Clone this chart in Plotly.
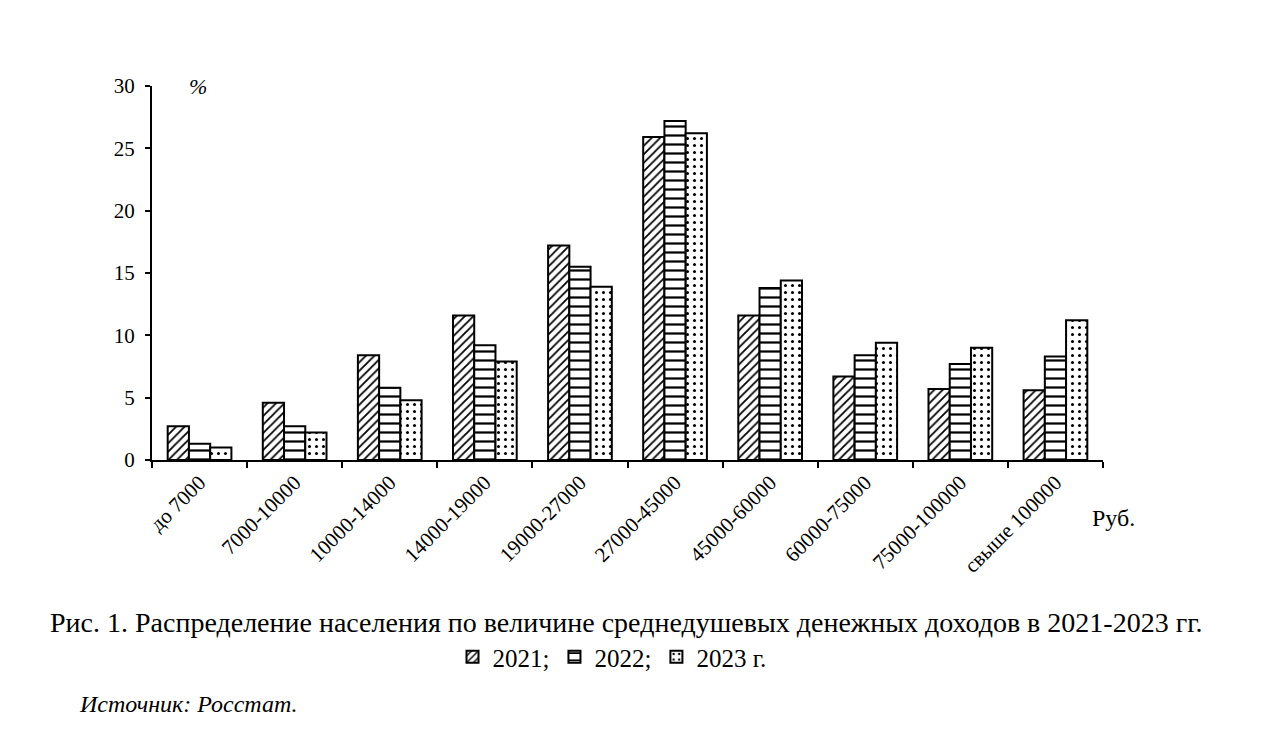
import plotly.graph_objects as go

categories = ["до 7000", "7000-10000", "10000-14000", "14000-19000", "19000-27000",
              "27000-45000", "45000-60000", "60000-75000", "75000-100000", "свыше 100000"]
v2021 = [2.7, 4.6, 8.4, 11.6, 17.2, 25.9, 11.6, 6.7, 5.7, 5.6]
v2022 = [1.3, 2.7, 5.8, 9.2, 15.5, 27.2, 13.8, 8.4, 7.7, 8.3]
v2023 = [1.0, 2.2, 4.8, 7.9, 13.9, 26.2, 14.4, 9.4, 9.0, 11.2]
series_names = ["2021;", "2022;", "2023 г."]

FONT = "Liberation Serif"

patterns = [
    dict(shape="/", size=6, solidity=0.3, fgcolor="black", bgcolor="white", fillmode="replace"),
    dict(shape="-", size=9, solidity=0.25, fgcolor="black", bgcolor="white", fillmode="replace"),
    dict(shape=".", size=7, solidity=0.15, fgcolor="black", bgcolor="white", fillmode="replace"),
]

fig = go.Figure()
for name, vals, pat in zip(series_names, [v2021, v2022, v2023], patterns):
    fig.add_trace(go.Bar(
        x=categories, y=vals, name=name,
        marker=dict(color="white", pattern=pat, line=dict(color="black", width=2)),
    ))

L, R, T, B = 152, 1103, 86, 460
PW, PH = R - L, B - T

def px(x):
    return (x - L) / PW

def py(y):
    return (B - y) / PH

fig.update_layout(
    width=1270, height=736,
    paper_bgcolor="white", plot_bgcolor="white",
    margin=dict(l=L, r=1270 - R, t=T, b=736 - B),
    barmode="group", bargap=0.33, bargroupgap=0,
    font=dict(family=FONT, color="black", size=21),
    showlegend=True,
    legend=dict(orientation="h", x=px(612), xanchor="center", y=py(657), yanchor="middle",
                font=dict(family=FONT, size=25), itemwidth=30, tracegroupgap=0),
    xaxis=dict(
        showline=True, linecolor="black", linewidth=2,
        ticks="outside", ticklen=6, tickwidth=2, tickcolor="black",
        tickson="boundaries", tickangle=-45, automargin=False,
        tickfont=dict(family=FONT, size=21), showgrid=False,
    ),
    yaxis=dict(
        range=[0, 30], dtick=5, showline=True, linecolor="black", linewidth=2,
        ticks="outside", ticklen=5, tickwidth=2, tickcolor="black", automargin=False,
        ticklabelstandoff=6,
        tickfont=dict(family=FONT, size=21), showgrid=False, zeroline=False,
    ),
    annotations=[
        dict(text="<i>%</i>", x=px(198), y=py(86), xref="paper", yref="paper", showarrow=False,
             font=dict(family=FONT, size=22), xanchor="center", yanchor="middle"),
        dict(text="Руб.", x=px(1090), y=py(518), xref="paper", yref="paper",
             showarrow=False, font=dict(family=FONT, size=24), xanchor="left", yanchor="middle"),
        dict(text="Рис. 1. Распределение населения по величине среднедушевых денежных доходов в 2021-2023 гг.",
             x=px(626), y=py(622), xref="paper", yref="paper", showarrow=False,
             font=dict(family=FONT, size=28), xanchor="center", yanchor="middle"),
        dict(text="<i>Источник: Росстат.</i>", x=px(77), y=py(704),
             xref="paper", yref="paper", showarrow=False,
             font=dict(family=FONT, size=24), xanchor="left", yanchor="middle"),
    ],
)

fig.write_html("out.html", post_script="document.body.style.margin='0';",
               config={"displayModeBar": False})
